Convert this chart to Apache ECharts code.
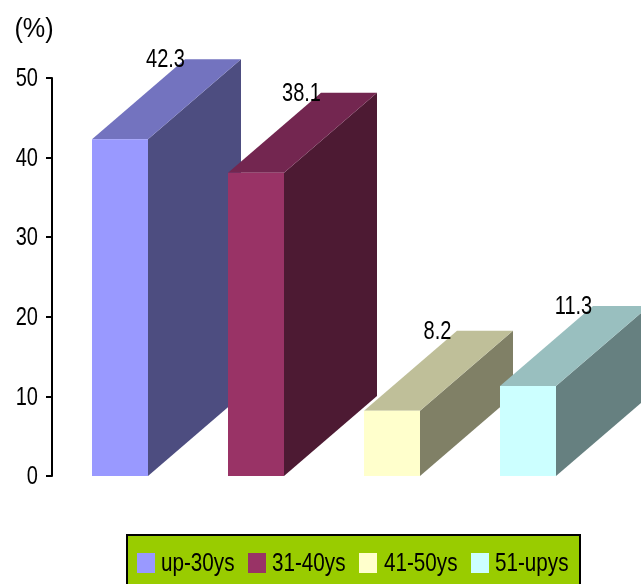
<!DOCTYPE html>
<html>
<head>
<meta charset="utf-8">
<style>html,body{margin:0;padding:0;background:#fff}#chart{width:641px;height:584px}</style>
<script src="https://cdn.jsdelivr.net/npm/echarts@6/dist/echarts.min.js"></script>
</head>
<body>
<div id="chart"></div>
<script>
// Share of respondents per age group, in percent
const categories = ['up-30ys', '31-40ys', '41-50ys', '51-upys'];
const values = [42.3, 38.1, 8.2, 11.3];
const frontColors = ['#9999FF', '#993366', '#FFFFCC', '#CCFFFF'];
const topColors = ['#7373BF', '#732650', '#BFBF99', '#99BFBF'];
const sideColors = ['#4D4D80', '#4D1A33', '#808066', '#668080'];
const yTickLabels = [0, 10, 20, 30, 40, 50];

// Oblique projection used for the box depth
const DEPTH_X = 93;
const DEPTH_Y = 80;
const BAR_WIDTH = 56;

// All text is a horizontally condensed sans, so it is set with a scaleX
const FONT = '26px "Liberation Sans", Arial, sans-serif';
const CONDENSE = 0.77;

// Legend strip layout
const LEGEND_BOX = { x: 127, y: 535, width: 453, height: 60 };
const LEGEND_SWATCH_X = [137, 248, 359, 471];
const LEGEND_TEXT_X = [161, 272, 384, 495];
const LEGEND_ROW_Y = 563;

function renderBox(index) {
  return function (params, api) {
    const top = api.coord([api.value(0), api.value(1)]);
    const base = api.coord([api.value(0), 0]);
    const l = top[0] - BAR_WIDTH / 2;
    const r = top[0] + BAR_WIDTH / 2;
    const t = top[1];
    const b = base[1];
    const poly = (points, fill) => ({ type: 'polygon', shape: { points }, style: { fill } });
    return {
      type: 'group',
      children: [
        poly([[r, t], [r + DEPTH_X, t - DEPTH_Y], [r + DEPTH_X, b - DEPTH_Y], [r, b]], sideColors[index]),
        poly([[l, t], [l + DEPTH_X, t - DEPTH_Y], [r + DEPTH_X, t - DEPTH_Y], [r, t]], topColors[index]),
        poly([[l, t], [r, t], [r, b], [l, b]], frontColors[index]),
        {
          type: 'text',
          z2: 10,
          x: top[0] + DEPTH_X / 2 - 1,
          y: t - DEPTH_Y + 1,
          scaleX: CONDENSE,
          style: {
            text: String(api.value(1)),
            align: 'center',
            verticalAlign: 'middle',
            fill: '#000',
            font: FONT
          }
        }
      ]
    };
  };
}

const chart = echarts.init(document.getElementById('chart'));
chart.setOption({
  animation: false,
  backgroundColor: '#fff',
  grid: { left: 52, top: 78, width: 544, height: 398 },
  xAxis: { type: 'category', data: categories, show: false },
  yAxis: {
    type: 'value',
    min: yTickLabels[0],
    max: yTickLabels[yTickLabels.length - 1],
    interval: yTickLabels[1] - yTickLabels[0],
    axisLine: { show: true, lineStyle: { color: '#000', width: 2 } },
    axisTick: { show: true, length: 6, lineStyle: { color: '#000', width: 2 } },
    axisLabel: { show: false },
    splitLine: { show: false }
  },
  series: categories.map((name, i) => ({
    type: 'custom',
    name,
    renderItem: renderBox(i),
    itemStyle: { color: frontColors[i] },
    encode: { x: 0, y: 1 },
    clip: false,
    data: [[i, values[i]]]
  }))
});

// Condensed tick labels, placed through the axis scale
const tickLabels = yTickLabels.map((v) => ({
  type: 'text',
  x: 38,
  y: chart.convertToPixel({ yAxisIndex: 0 }, v) + 1,
  scaleX: CONDENSE,
  style: { text: String(v), align: 'right', verticalAlign: 'middle', fill: '#000', font: FONT }
}));

const unitLabel = {
  type: 'text',
  x: 34,
  y: 29,
  scaleX: 0.9,
  style: { text: '(%)', align: 'center', verticalAlign: 'middle', fill: '#000', font: '28px "Liberation Sans", Arial, sans-serif' }
};

const legendItems = [
  { type: 'rect', z: 20, shape: LEGEND_BOX, style: { fill: '#99CC00', stroke: '#000', lineWidth: 2 } }
];
categories.forEach((name, i) => {
  legendItems.push({
    type: 'rect',
    z: 21,
    shape: { x: LEGEND_SWATCH_X[i], y: LEGEND_ROW_Y - 10, width: 18, height: 20 },
    style: { fill: frontColors[i] }
  });
  legendItems.push({
    type: 'text',
    z: 21,
    x: LEGEND_TEXT_X[i],
    y: LEGEND_ROW_Y + 1,
    scaleX: 0.795,
    style: { text: name, align: 'left', verticalAlign: 'middle', fill: '#000', font: FONT }
  });
});

chart.setOption({ graphic: { elements: [...tickLabels, unitLabel, ...legendItems] } });
</script>
</body>
</html>
